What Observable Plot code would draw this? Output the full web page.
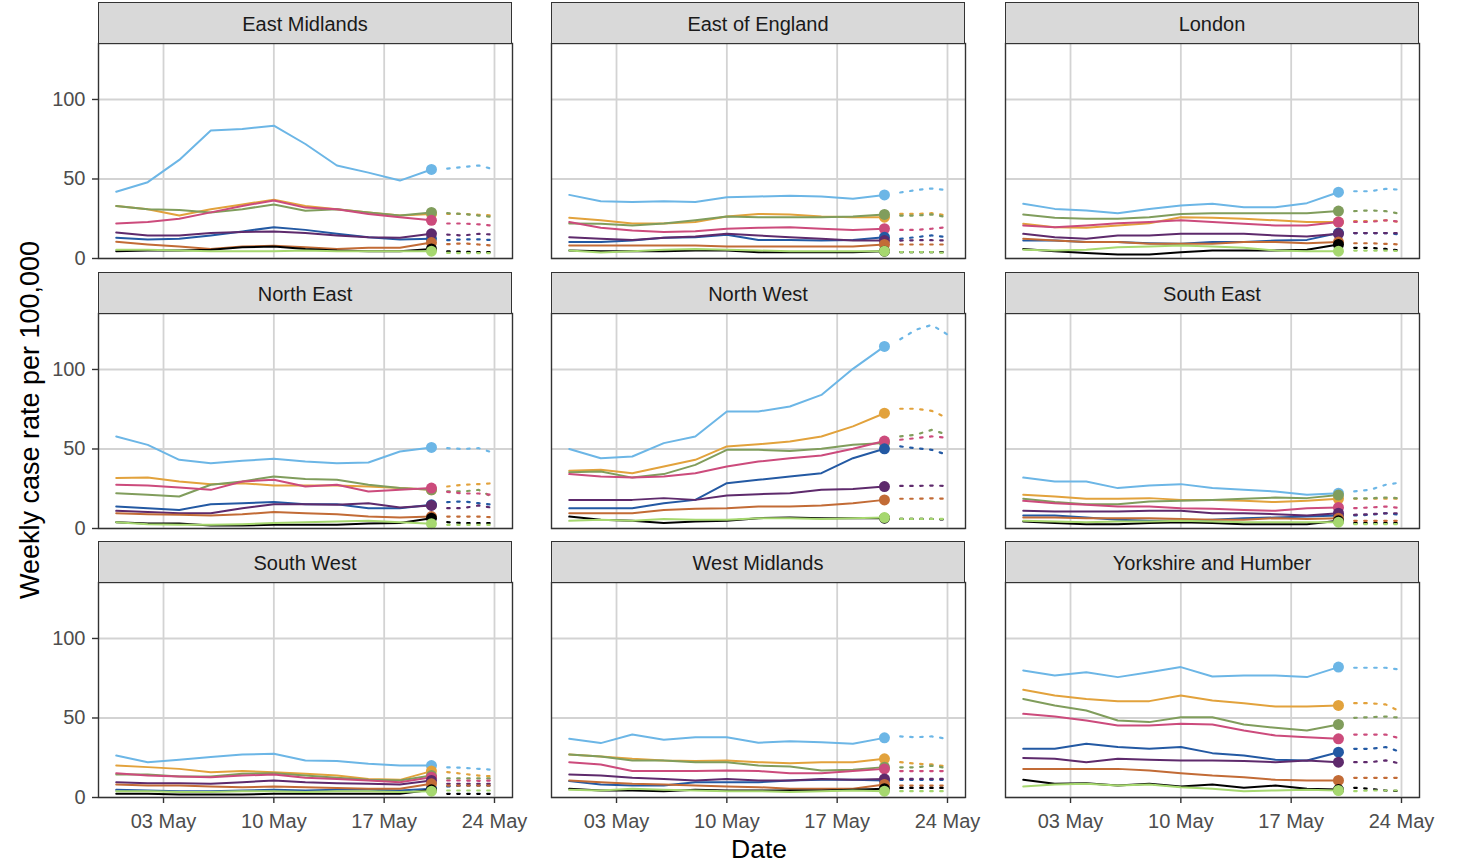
<!DOCTYPE html>
<html>
<head>
<meta charset="utf-8">
<script src="https://cdn.jsdelivr.net/npm/d3@7"></script>
<script src="https://cdn.jsdelivr.net/npm/@observablehq/plot@0.6"></script>
<style>
  body { margin: 0; background: #fff; font-family: "Liberation Sans", Arial, sans-serif; }
  #root { position: relative; width: 1461px; height: 864px; overflow: hidden; background: #fff; }
  .strip { position: absolute; box-sizing: border-box; background: #d9d9d9; border: 1.4px solid #333;
           display: flex; align-items: center; justify-content: center; font-size: 20px; color: #1a1a1a; padding-top: 2px; }
  .panel { position: absolute; }
  .ytitle { position: absolute; width: 600px; height: 30px; line-height: 30px; text-align: center;
            font-size: 27px; color: #000; transform: rotate(-90deg); transform-origin: 50% 50%; }
  .xtitle { position: absolute; width: 300px; height: 30px; line-height: 30px; text-align: center;
            font-size: 26.5px; color: #000; }
</style>
</head>
<body>
<div id="root"></div>
<script>
// ---------------- data ----------------
const regionNames = ["East Midlands", "East of England", "London", "North East", "North West",
                     "South East", "South West", "West Midlands", "Yorkshire and Humber"];
const ageGroups = ["10-19", "20-29", "5-9", "30-39", "0-4", "40-49", "50-59", "60-79", "80+"];
const ageColours = ["#6cb6e6", "#e2a23c", "#809d5c", "#cc4b7c", "#2359a3", "#5e2a6c", "#c26b36", "#000000", "#a6d86f"];
const obsDates = ["2021-04-30", "2021-05-02", "2021-05-04", "2021-05-06", "2021-05-08", "2021-05-10",
                  "2021-05-12", "2021-05-14", "2021-05-16", "2021-05-18", "2021-05-20"];
const projDates = ["2021-05-21", "2021-05-22", "2021-05-23", "2021-05-24"];
const tickDates = ["2021-05-03", "2021-05-10", "2021-05-17", "2021-05-24"];
const yTicks = [0, 50, 100];

// rows follow ageGroups order
const eastMidlands = [
  [42, 48, 62, 80.5, 81.5, 83.5, 72, 58.5, 54, 49, 56],
  [33, 31, 27, 31, 34, 37, 33, 31, 29, 27, 28],
  [33, 31, 30.5, 29, 31, 34, 30, 31, 29, 27, 29],
  [22, 23, 25, 29, 33, 36.5, 32, 31, 28, 26, 24],
  [13, 12, 12.4, 14.5, 17, 19.7, 18, 15.5, 13.4, 12, 12.4],
  [16.4, 14.5, 14.5, 16, 16.6, 17, 16, 14.5, 13.4, 13, 15.5],
  [10.5, 8.8, 7.5, 6, 7.5, 8, 7, 6, 6.7, 6.7, 10],
  [4.6, 5, 5, 5.5, 7, 7.5, 6, 5, 4.6, 4.6, 6],
  [5.5, 5.5, 5, 4.6, 4.6, 4.6, 5, 4.6, 4.6, 4.6, 4.6]
];
const eastMidlandsProj = [
  [56.5, 57.5, 58.5, 56], [28, 28, 27.5, 27], [28.5, 28, 27, 26], [22, 22, 21.5, 20.5],
  [11.5, 12, 12, 11.5], [15, 14.5, 15.5, 15], [9, 9.5, 8.8, 8], [4.5, 4.2, 4, 4], [3.5, 3.4, 3.4, 3.4]
];
const eastOfEngland = [
  [40, 36, 35.5, 36, 35.5, 38.5, 39, 39.5, 39, 37.5, 40],
  [25.6, 24, 22, 22, 23, 26.4, 28, 27.7, 26.4, 26, 26],
  [22, 21.8, 20.8, 22, 24, 26.4, 26, 26, 26, 26.4, 27.7],
  [22.9, 19.3, 17.6, 16.6, 17.2, 18.7, 19.3, 19.7, 18.7, 18, 18.7],
  [10.3, 10.3, 11.3, 13, 13.4, 15, 11.7, 11.7, 11.3, 11.7, 13.4],
  [13.4, 12.4, 11.7, 13, 13.8, 15.5, 14.5, 13.4, 12.4, 11.3, 11.3],
  [8.2, 8.2, 8.2, 8.2, 8.2, 7.5, 7.5, 7.5, 7.5, 7.5, 8.8],
  [5, 4.6, 4.6, 4.6, 5, 5, 4, 4, 4, 4, 4.6],
  [5, 3.8, 4.6, 5.5, 6, 5.5, 5, 4.6, 4.6, 4.6, 4.6]
];
const eastOfEnglandProj = [
  [41.5, 43, 44, 43], [28, 28, 28.5, 27], [27, 27, 27.7, 26], [18, 18, 18.7, 19.7],
  [12.4, 13.4, 14.5, 13.4], [11.3, 11.5, 11.5, 11.3], [8.8, 8.8, 8.8, 8.8], [4, 4, 4, 4], [4, 4, 4, 3.5]
];
const london = [
  [34.4, 31.2, 30.2, 28.5, 31.2, 33.3, 34.4, 32.3, 32.3, 34.8, 41.7],
  [21.8, 19.7, 19.3, 20.8, 22.2, 26, 25.6, 25, 24, 22.9, 22.9],
  [27.7, 25.6, 25, 25, 26, 28, 28.5, 28.5, 28.5, 28.5, 29.8],
  [20.8, 19.7, 20.8, 22.2, 22.9, 24, 22.9, 21.8, 20.8, 20.8, 22.9],
  [11.3, 11.3, 10.3, 10.3, 9.6, 9.2, 10.3, 10.3, 11.3, 11.7, 16],
  [15.5, 13.4, 12.4, 14.5, 14.5, 15.5, 15.5, 15.5, 14.5, 13.8, 15.5],
  [12.4, 11.3, 10.3, 10.3, 9.2, 9.2, 9.2, 10.3, 10.3, 9.6, 10.3],
  [6, 4.6, 3.4, 2.5, 2.5, 4, 5, 5, 5, 5.5, 8.8],
  [5.5, 5, 5.5, 7, 7.5, 8.2, 7.5, 6.7, 5, 4.6, 4.6]
];
const londonProj = [
  [42.3, 42.3, 43.8, 43.2], [23.5, 23.5, 24, 22.9], [29.8, 30.2, 29.8, 28], [23, 23, 24, 23],
  [16, 16, 16, 15], [16, 16, 16, 16], [9.6, 9.6, 9.2, 8.8], [6.7, 6.7, 6, 5], [5, 5, 5, 4.6]
];
const northEast = [
  [57.9, 52.6, 43.2, 41, 42.6, 43.8, 42.1, 41, 41.5, 48.4, 51],
  [31.7, 32, 29.6, 27.9, 28.5, 27, 27, 27, 26.4, 25.4, 24.3],
  [22.2, 21.2, 20.1, 27.5, 29.6, 32.7, 31.2, 30.6, 27.5, 25.4, 24.3],
  [27.5, 27, 25.8, 24.3, 29.6, 30.6, 26.4, 27.5, 23.3, 24.3, 25.4],
  [13.8, 12.8, 11.7, 15.3, 15.9, 16.6, 15.3, 15.3, 12.8, 12.8, 14.9],
  [11.1, 10.3, 9.6, 9.6, 12.8, 15.3, 15.3, 14.9, 15.9, 13.2, 14.5],
  [9.6, 9, 8.6, 8.2, 9, 10.3, 9.6, 9, 7.5, 6.9, 7.5],
  [4, 3.1, 3.1, 1.9, 1.9, 2.3, 2.3, 2.3, 3.1, 3.4, 6.5],
  [4, 2.7, 2.3, 2.3, 2.7, 3.4, 4, 4.4, 4.8, 4, 3]
];
const northEastProj = [
  [50.5, 50, 50.5, 47.4], [26.4, 27.5, 27.9, 28.5], [23.3, 23.3, 24.3, 19], [23, 22, 22, 21],
  [16.6, 17, 15.9, 14.9], [12.8, 12.8, 14.5, 12.8], [7.5, 7.5, 7.5, 7], [4, 3.4, 3.4, 3.4], [2.3, 2.3, 2.3, 2.3]
];
const northWest = [
  [50, 44.2, 45.3, 53.7, 57.9, 73.6, 73.6, 76.7, 84, 100.4, 114.5],
  [36.3, 36.9, 34.8, 39, 43.2, 51.6, 53, 54.7, 57.9, 64.2, 72.5],
  [35.4, 35.8, 32, 34.2, 40, 49.5, 49.5, 48.8, 50.1, 52.6, 53.7],
  [34.2, 32.7, 32, 32.7, 34.8, 39, 42.1, 44.2, 45.9, 50.1, 55],
  [12.8, 12.8, 12.8, 15.9, 18, 28.5, 30.6, 32.7, 34.8, 44.2, 50.1],
  [18, 18, 18, 19.1, 18, 20.8, 21.6, 22.2, 24.3, 24.9, 26.4],
  [9.6, 9.6, 9.6, 11.7, 12.4, 12.8, 13.8, 13.8, 14.5, 15.9, 18],
  [7.5, 5.5, 4.8, 3.4, 4.4, 4.8, 6.5, 6.9, 6.5, 6.5, 6.5],
  [4.8, 5.5, 4.8, 6, 5.5, 5.5, 6.5, 6.5, 6, 6.5, 6.9]
];
const northWestProj = [
  [119, 125, 128, 122], [75.3, 75.3, 74, 69.4], [57.9, 59, 62, 59], [55.8, 56.8, 57.9, 57],
  [51.6, 50.5, 49.5, 46.3], [26.8, 26.8, 27, 26.8], [18.7, 18.7, 19, 18.7], [6, 6, 6, 5.5], [6, 6, 6, 6]
];
const southEast = [
  [32, 29.6, 29.6, 25.4, 27, 27.9, 25.4, 24.3, 23.3, 21.2, 22.2],
  [21.2, 20.1, 18.7, 18.7, 19.1, 18, 18, 17.4, 16.6, 17.4, 18.7],
  [18.7, 16.6, 15.3, 15.3, 17, 17.4, 18, 18.7, 19.5, 19.1, 21],
  [17.4, 15.9, 14.9, 13.8, 13.8, 12.8, 12.4, 11.7, 11.1, 12.8, 13.2],
  [8.2, 8.2, 6.9, 5.5, 4.8, 4.8, 5.5, 6.5, 6.9, 7.5, 8.2],
  [11.1, 10.7, 10.7, 10.7, 11.1, 11.1, 9.6, 9.6, 9, 8.2, 9.6],
  [6.9, 6.9, 6.5, 6.5, 6.5, 6, 5.5, 5.5, 6.5, 6, 6.5],
  [4.4, 3.4, 2.7, 2.7, 3.4, 4, 3.4, 2.7, 2.7, 2.7, 4.8],
  [4.8, 4.4, 4, 4.4, 4.4, 4.8, 4.4, 4, 4, 4, 4]
];
const southEastProj = [
  [23.3, 24.3, 27.5, 29], [18.7, 18.7, 18.7, 18.7], [19, 19, 19.5, 19], [12.8, 13.2, 13.8, 12.8],
  [8.2, 8.6, 9.6, 8.6], [8.6, 9, 9.6, 9.6], [4.8, 4.8, 4.8, 4.8], [3.4, 3.4, 3.4, 3.4], [2.7, 2.7, 2.7, 2.7]
];
const southWest = [
  [26.4, 22.2, 23.7, 25.4, 27, 27.5, 23.3, 22.9, 21.2, 20.1, 20.1],
  [20.1, 19.1, 18, 15.9, 16.6, 15.9, 14.9, 13.8, 11.7, 11.1, 16.6],
  [14.5, 14.5, 13.2, 13.2, 14.9, 15.3, 13.8, 12.4, 11.1, 10.7, 13.8],
  [15.3, 13.8, 13.2, 12.8, 13.8, 14.5, 12.4, 11.7, 10.7, 9.6, 12.8],
  [4.8, 4.4, 4, 4, 4.4, 4.8, 4.4, 4.8, 4.8, 4.4, 5.5],
  [9.6, 9, 9, 8.6, 9.6, 10.7, 9.6, 9, 8.6, 8.2, 10.7],
  [8.2, 7.5, 7.5, 6.9, 6.5, 6.9, 6.5, 6, 5.5, 5.5, 8.6],
  [2.3, 2.3, 1.9, 1.9, 1.9, 2.3, 2.3, 2.3, 2.3, 2.3, 4.8],
  [4, 4, 3.4, 3.4, 4, 4, 3.4, 4, 4, 3.4, 4]
];
const southWestProj = [
  [19, 18.7, 18, 17.4], [15.9, 14.9, 13.8, 13.2], [12, 12, 12, 12], [10.7, 10.7, 10.5, 10.7],
  [6.9, 7.5, 7.5, 7.5], [8.6, 8.6, 8.6, 8.6], [7.5, 7.5, 7.5, 7.5], [2.3, 2.3, 2.3, 2.3], [4.4, 4.4, 4.4, 4.4]
];
const westMidlands = [
  [36.9, 34.2, 39.6, 36.3, 37.9, 37.9, 34.4, 35.4, 34.8, 33.8, 37.5],
  [27, 25.8, 24.3, 23.3, 22.9, 23.3, 22.2, 21.6, 22.2, 22.2, 24.3],
  [27, 25.8, 23.3, 23.3, 22.2, 22.2, 20.1, 19.5, 17, 17.4, 19.1],
  [22.2, 20.8, 16.6, 16.6, 16.6, 17, 16.6, 15.3, 15.3, 16.6, 18],
  [10.3, 8.2, 7.5, 7.5, 9.6, 9.6, 9.6, 10.7, 11.1, 11.1, 10.7],
  [14.5, 13.8, 12.4, 11.7, 10.7, 11.7, 10.7, 10.7, 11.7, 11.1, 11.7],
  [10.7, 9.6, 8.6, 8.2, 7.5, 6.9, 6.5, 5.5, 5.5, 5.5, 8.2],
  [5.5, 4.4, 4.4, 4, 4.8, 4.4, 4.4, 4.4, 4.4, 4.8, 5.5],
  [4.8, 4.4, 5.5, 4.8, 4.4, 4, 4, 3.4, 4, 4.4, 4]
];
const westMidlandsProj = [
  [38.4, 37.9, 38.4, 36.9], [22.2, 21.2, 20.8, 19.5], [19, 19, 20, 18.5], [16.6, 16.6, 16.6, 16.6],
  [11.1, 11.1, 11.1, 11.1], [11.7, 11.7, 11.7, 11.7], [7.5, 7.5, 7.5, 7.5], [6, 6, 6, 6], [4, 4, 4, 4]
];
const yorkshire = [
  [79.9, 76.7, 78.8, 75.7, 78.8, 82, 76.1, 76.7, 76.7, 75.7, 82],
  [67.7, 64.2, 62, 60.6, 60.6, 64.2, 61, 59.3, 57.2, 57.2, 57.9],
  [62, 57.9, 54.7, 48.4, 47.4, 50.5, 50.5, 45.9, 43.8, 42.1, 45.9],
  [52.6, 50.9, 48.4, 45.3, 45.3, 46.3, 45.9, 42.1, 39, 37.9, 36.9],
  [30.6, 30.6, 33.8, 31.7, 30.6, 31.7, 27.9, 26.4, 23.7, 23.3, 28.5],
  [24.9, 24.3, 22.2, 24.3, 23.7, 23.3, 23.3, 22.9, 22.2, 23.3, 22.2],
  [18, 18, 18, 18, 17, 15.3, 13.8, 12.8, 11.1, 10.7, 10.7],
  [11.1, 8.6, 9, 7.5, 8.6, 6.9, 8.2, 6.1, 7.5, 5.5, 5],
  [6.9, 8.2, 8.6, 7.5, 8.2, 6.5, 5.5, 4, 4.4, 4.8, 4.4]
];
const yorkshireProj = [
  [81.6, 81.6, 81.6, 80.3], [59.3, 59.3, 58.5, 53.7], [50.1, 50.5, 50.9, 50.1], [39.6, 39.6, 39.6, 36.9],
  [30.6, 30.6, 31.7, 28.5], [22.2, 22.2, 23.3, 21.2], [12.4, 12.4, 12.4, 12.4], [6.1, 5.5, 4.4, 4], [4, 4.4, 4.4, 4.4]
];

const observed = [eastMidlands, eastOfEngland, london, northEast, northWest, southEast, southWest, westMidlands, yorkshire];
const projected = [eastMidlandsProj, eastOfEnglandProj, londonProj, northEastProj, northWestProj,
                   southEastProj, southWestProj, westMidlandsProj, yorkshireProj];

// ---------------- layout ----------------
const parse = d3.utcParse("%Y-%m-%d");
const ticksX = tickDates.map(parse);
const xDomain = [new Date(Date.UTC(2021, 3, 28, 21)), new Date(Date.UTC(2021, 4, 25, 3, 25))];
const yDomain = [0, 135.2];
const panelLeft = [98, 551, 1005];
const panelTop = [43, 313, 582];
const PW = 414, PH = 215, STRIP = 41;
const ML = 70, MR = 12, MT = 4, MB = 50;
const FONT = '"Liberation Sans", Arial, sans-serif';

const root = document.getElementById("root");
const drawOrder = d3.range(ageGroups.length);

regionNames.forEach((name, i) => {
  const r = Math.floor(i / 3), c = i % 3;
  const obs = [], proj = [], last = [];
  drawOrder.forEach(k => {
    observed[i][k].forEach((v, j) => obs.push({date: parse(obsDates[j]), value: v, age: ageGroups[k]}));
    projected[i][k].forEach((v, j) => proj.push({date: parse(projDates[j]), value: v, age: ageGroups[k]}));
    const n = observed[i][k].length - 1;
    last.push({date: parse(obsDates[n]), value: observed[i][k][n], age: ageGroups[k]});
  });

  const showY = c === 0, showX = r === 2;
  const chart = Plot.plot({
    width: PW + ML + MR,
    height: PH + MT + MB,
    marginLeft: ML, marginRight: MR, marginTop: MT, marginBottom: MB,
    style: {background: "transparent", overflow: "visible", fontFamily: FONT},
    x: {type: "utc", domain: xDomain, axis: null},
    y: {domain: yDomain, axis: null},
    color: {domain: ageGroups, range: ageColours},
    marks: [
      Plot.gridX(ticksX, {stroke: "#d3d3d3", strokeOpacity: 1, strokeWidth: 1.8}),
      Plot.gridY(yTicks, {stroke: "#d3d3d3", strokeOpacity: 1, strokeWidth: 1.8}),
      Plot.line(obs, {x: "date", y: "value", z: "age", stroke: "age", strokeWidth: 2, curve: "linear"}),
      Plot.line(proj, {x: "date", y: "value", z: "age", stroke: "age", strokeWidth: 2.2, strokeDasharray: "2.5,7.5"}),
      Plot.dot(last, {x: "date", y: "value", fill: "age", r: 5.5}),
      Plot.frame({stroke: "#333", strokeWidth: 1.4}),
      showY ? Plot.axisY(yTicks, {tickSize: 6, tickPadding: 7, stroke: "#333", strokeWidth: 1.4,
                                   fill: "#4d4d4d", fontSize: 20, label: null}) : null,
      showX ? Plot.axisX(ticksX, {tickSize: 6, tickPadding: 10, stroke: "#333", strokeWidth: 1.4,
                                   fill: "#4d4d4d", fontSize: 20, label: null,
                                   tickFormat: d3.utcFormat("%d %b")}) : null
    ]
  });
  const wrap = document.createElement("div");
  wrap.className = "panel";
  wrap.style.left = (panelLeft[c] - ML) + "px";
  wrap.style.top = (panelTop[r] - MT) + "px";
  wrap.appendChild(chart);
  root.appendChild(wrap);

  const strip = document.createElement("div");
  strip.className = "strip";
  strip.style.left = panelLeft[c] + "px";
  strip.style.top = (panelTop[r] - STRIP) + "px";
  strip.style.width = PW + "px";
  strip.style.height = (STRIP + 1) + "px";
  strip.textContent = name;
  root.appendChild(strip);
});

const yt = document.createElement("div");
yt.className = "ytitle";
yt.textContent = "Weekly case rate per 100,000";
yt.style.left = (30 - 300) + "px";
yt.style.top = (420 - 15) + "px";
root.appendChild(yt);

const xt = document.createElement("div");
xt.className = "xtitle";
xt.textContent = "Date";
xt.style.left = (759 - 150) + "px";
xt.style.top = (849 - 15) + "px";
root.appendChild(xt);
</script>
</body>
</html>
